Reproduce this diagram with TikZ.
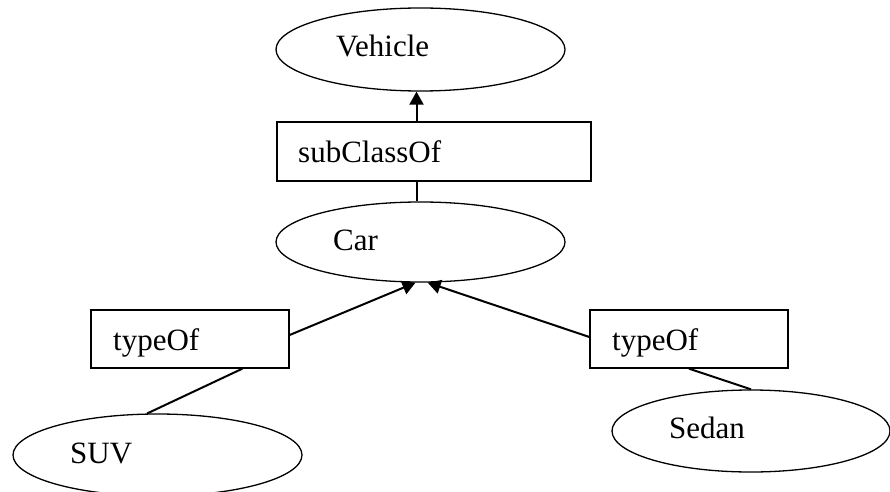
\documentclass[tikz,border=0pt]{standalone}
\usepackage{fontspec}
\setmainfont{Liberation Serif}
\usetikzlibrary{shapes.geometric,arrows.meta,calc}
\tikzset{
  oval/.style={ellipse,draw,line width=1.3pt,inner sep=0pt},
  relbox/.style={rectangle,draw,line width=1.3pt,inner sep=0pt},
  lbl/.style={anchor=base west,inner sep=0pt,font=\fontsize{31}{31}\selectfont},
  conn/.style={line width=2pt},
  arr/.style={line width=2pt,-{Triangle[width=14pt,length=13pt]}}
}
\begin{document}
\begin{tikzpicture}[x=1pt,y=1pt]
\useasboundingbox (0,0) rectangle (890,491);
% shapes
\node[oval,minimum width=289pt,minimum height=83pt] (veh) at (420.5,441.5) {};
\node[relbox,minimum width=314pt,minimum height=59pt] (sub) at (434,339.5) {};
\node[oval,minimum width=289pt,minimum height=80pt] (car) at (420.5,249) {};
\node[relbox,minimum width=198pt,minimum height=58pt] (typeL) at (190,152) {};
\node[relbox,minimum width=198pt,minimum height=58pt] (typeR) at (689,152) {};
\node[oval,minimum width=289pt,minimum height=82pt] (suv) at (157.5,36) {};
\node[oval,minimum width=278pt,minimum height=82pt] (sedan) at (751,60) {};
% labels
\node[lbl] (tveh) at (336,434) {Vehicle};
\node[lbl] (tsub) at (298,329) {subClassOf};
\node[lbl] (tcar) at (333,241) {Car};
\node[lbl] (ttl) at (113,141) {typeOf};
\node[lbl] (ttr) at (612,141) {typeOf};
\node[lbl] (tsuv) at (70,28) {SUV};
\node[lbl] (tsed) at (669,53) {Sedan};
% connectors
\coordinate (subtop) at ($(veh.south |- sub.north)+(-4,0)$);
\coordinate (vehbot) at ($(veh.south)+(-4,0)$);
\draw[arr] (subtop) -- (vehbot);
\coordinate (carTop) at ($(car.north)+(-4,0)$);
\draw[conn] (carTop) -- (carTop |- sub.south);
\draw[arr] ($(typeL.east)+(0,4)$) -- (car.263);
\draw[arr] ($(typeR.west)+(0,2)$) -- (car.280);
\draw[conn] ($(typeL.south west)!0.763!(typeL.south east)$) -- (suv.104);
\draw[conn] (typeR.south) -- (sedan.north);
\end{tikzpicture}
\end{document}
